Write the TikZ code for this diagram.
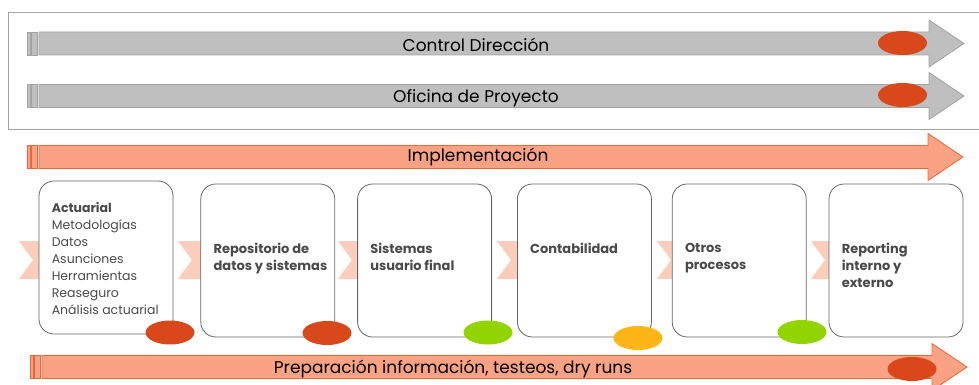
\documentclass[tikz,border=0pt]{standalone}
\usepackage{fontspec}
\setmainfont{Poppins}
\usepackage{tikz}
\usetikzlibrary{positioning}
\usetikzlibrary{shapes.geometric}
\definecolor{barGray}{HTML}{BFBFBF}
\definecolor{barGrayLine}{HTML}{A3A3A3}
\definecolor{barSalmon}{HTML}{F9A384}
\definecolor{barSalmonLine}{HTML}{E8683A}
\definecolor{chevPink}{HTML}{FBCDBB}
\definecolor{dotRed}{HTML}{D9481A}
\definecolor{dotGreen}{HTML}{92D400}
\definecolor{dotYellow}{HTML}{FDB615}
\definecolor{txtGray}{HTML}{4A4A4A}
\tikzstyle{box}=[draw=black!60,fill=white,line width=0.8pt,rounded corners=15pt,minimum width=134pt,minimum height=153pt,inner sep=0pt]
\tikzstyle{dot}=[ellipse,minimum width=49pt,minimum height=24pt,inner sep=0pt]
\tikzstyle{lbl}=[anchor=north west,inner sep=0pt,align=left,text=txtGray,font=\fontsize{12.5}{17}\selectfont]
\tikzstyle{blbl}=[lbl,font=\fontsize{13}{17}\selectfont\bfseries]
\tikzstyle{bartext}=[inner sep=0pt,font=\fontsize{17}{20}\selectfont]
% striped arrow: style, x start, y centre, x where the head begins
\newcommand{\stripearrow}[4]{%
	\draw [#1] (#2,#3-11.5) rectangle (#2+3,#3+11.5);
	\draw [#1] (#2+4.5,#3-11.5) rectangle (#2+10,#3+11.5);
	\draw [#1] (#2+12,#3-11.5) -- (#4,#3-11.5) -- (#4,#3-23.5) -- (#4+35,#3)
		-- (#4,#3+23.5) -- (#4,#3+11.5) -- (#2+12,#3+11.5) -- cycle;
}

\begin{document}
\begin{tikzpicture}[x=1pt,y=-1pt,line join=miter]
	\tikzstyle{grayarrow}=[fill=barGray,draw=barGrayLine,line width=0.8pt]
	\tikzstyle{salmonarrow}=[fill=barSalmon,draw=barSalmonLine,line width=0.8pt]
	\useasboundingbox (0,0) rectangle (979,385);
	\clip (0,0) rectangle (979,385);
	% top frame with the two gray bars
	\draw [barGrayLine,line width=0.8pt] (8,12) rectangle (995,129);
	\stripearrow{grayarrow}{27}{43.5}{929}
	\stripearrow{grayarrow}{27}{96}{929}
	\stripearrow{salmonarrow}{27}{157}{928}
	\stripearrow{salmonarrow}{30}{367}{932}
	\node [bartext] (cd) at (476,45) {Control Dirección};
	\node [bartext] (op) at (476,98) {Oficina de Proyecto};
	\node [bartext] (im) at (478,157) {Implementación};
	\node [bartext] (pi) at (453,369) {Preparación información, testeos, dry runs};
	\node [dot,fill=dotRed] (sc) at (902.5,43) {};
	\node [dot,fill=dotRed] (so) at (902.5,95) {};
	\node [dot,fill=dotRed] (sp) at (912,369) {};
	% chevrons behind the boxes
	\foreach \x in {19,178,338,497,657,811}
		\fill [chevPink] (\x,241) -- ++(30,0) -- ++(14,19) -- ++(-14,19) -- ++(-30,0) -- ++(14,-19) -- cycle;
	% process boxes
	\node [box] (b1) at (106,257.5) {};
	\node [box,right=27pt of b1,yshift=-3pt] (b2) {};
	\node [box,right=22pt of b2] (b3) {};
	\node [box,right=25pt of b3] (b4) {};
	\node [box,right=20pt of b4] (b5) {};
	\node [box,right=22pt of b5] (b6) {};
	\node [lbl] (t1) at ([xshift=13pt,yshift=-22pt]b1.north west) {\textbf{Actuarial}\\Metodologías\\Datos\\Asunciones\\Herramientas\\Reaseguro\\Análisis actuarial};
	\node [blbl] (t2) at ([xshift=13pt,yshift=-59pt]b2.north west) {Repositorio de\\datos y sistemas};
	\node [blbl] (t3) at ([xshift=13pt,yshift=-59pt]b3.north west) {Sistemas\\usuario final};
	\node [blbl] (t4) at ([xshift=13pt,yshift=-59pt]b4.north west) {Contabilidad};
	\node [blbl] (t5) at ([xshift=13pt,yshift=-59pt]b5.north west) {Otros\\procesos};
	\node [blbl] (t6) at ([xshift=13pt,yshift=-59pt]b6.north west) {Reporting\\interno y\\externo};
	% status dots
	\node [dot,fill=dotRed] (s1) at (170,332.5) {};
	\node [dot,fill=dotRed] (s2) at (327,333) {};
	\node [dot,fill=dotGreen] (s3) at (488,332.5) {};
	\node [dot,fill=dotYellow] (s4) at (638,338) {};
	\node [dot,fill=dotGreen] (s5) at (802,332) {};
\end{tikzpicture}
\end{document}
